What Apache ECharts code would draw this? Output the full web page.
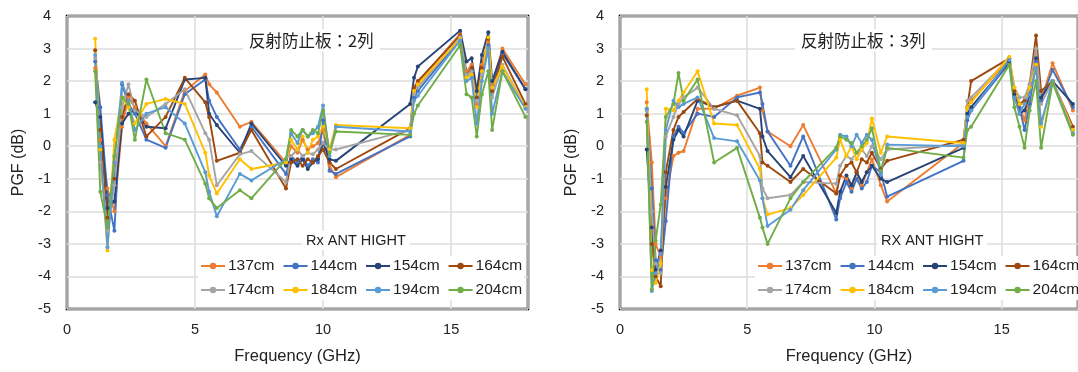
<!DOCTYPE html>
<html><head><meta charset="utf-8">
<script src="https://cdn.jsdelivr.net/npm/echarts@6/dist/echarts.min.js"></script>
<style>html,body{margin:0;padding:0;background:#fff}#c{width:1078px;height:372px}</style>
</head><body><div id="c"></div>
<script>
const seriesNames = ['137cm','144cm','154cm','164cm','174cm','184cm','194cm','204cm'];
const seriesColors = ['#ED7D31','#4472C4','#264478','#9E480E','#A5A5A5','#FFC000','#5B9BD5','#70AD47'];
const xTicks = [0,5,10,15];
const yTicks = [-5,-4,-3,-2,-1,0,1,2,3,4];

// Panel 1: 反射防止板：2列
const freq2 = [1.1,1.3,1.58,1.85,2.15,2.4,2.65,3.1,3.85,4.6,5.4,5.55,5.85,6.75,7.2,8.55,8.75,9.0,9.2,9.4,9.6,9.8,10.0,10.25,10.5,13.4,13.55,13.7,15.35,15.6,15.8,16.0,16.2,16.45,16.6,17.0,17.9];
const p2_137 = [2.4,0.2,-1.3,-2.0,0.6,1.5,1.2,0.7,0.0,1.7,2.2,1.9,1.65,0.6,0.75,-0.5,0.0,-0.2,0.2,-0.1,0.0,0.1,0.5,-0.6,-0.95,0.35,1.7,1.95,3.45,2.3,2.5,1.3,2.5,3.2,1.9,3.0,1.9];
const p2_144 = [2.6,1.2,-1.5,-2.6,1.9,1.3,1.0,0.2,-0.05,1.6,2.05,1.4,0.9,-0.1,0.6,-0.85,-0.3,-0.5,-0.3,-0.6,-0.4,-0.5,0.8,-0.75,-0.85,0.3,1.5,1.7,3.3,2.2,2.3,1.5,2.2,3.1,1.8,2.85,1.75];
const p2_154 = [1.35,0.9,-1.9,-1.7,0.7,1.0,1.1,0.6,0.55,2.05,2.1,1.0,0.65,-0.2,0.7,-0.6,-0.4,-0.6,-0.4,-0.7,-0.5,-0.4,0.1,-0.4,-0.45,1.3,2.1,2.45,3.55,2.6,2.7,1.7,2.8,3.5,2.0,2.9,1.75];
const p2_164 = [2.95,0.5,-2.2,-1.0,0.9,1.6,1.4,0.3,0.9,2.1,1.35,0.9,-0.45,-0.2,0.5,-1.3,-0.5,-0.4,-0.6,-0.4,-0.5,-0.3,-0.1,-0.5,-0.7,0.55,1.8,2.0,3.4,2.2,2.4,1.5,2.4,3.3,1.7,2.75,1.3];
const p2_174 = [2.7,-0.5,-2.6,-1.2,1.2,1.9,1.1,0.9,1.3,1.75,0.4,0.2,-1.2,-0.25,-0.15,-1.1,-0.3,-0.1,-0.3,-0.2,-0.25,-0.1,0.1,-0.1,-0.1,0.5,1.6,1.8,3.35,2.2,2.3,1.4,2.2,3.0,1.5,2.5,1.2];
const p2_184 = [3.3,-0.1,-3.2,0.2,1.5,1.2,0.7,1.3,1.45,1.3,-0.2,-0.9,-1.45,-0.4,-0.7,-0.5,0.2,-0.1,0.3,-0.2,0.2,0.3,0.6,-0.1,0.65,0.55,1.7,1.9,3.3,2.1,2.2,1.2,2.3,3.35,1.8,2.45,1.2];
const p2_194 = [2.8,0.0,-3.1,-0.5,1.95,1.4,0.5,1.0,1.2,0.7,-0.8,-1.4,-2.15,-0.85,-1.05,-0.4,0.4,0.1,0.5,0.3,0.4,0.6,1.25,-0.3,0.6,0.45,1.4,1.55,3.25,2.0,2.1,0.7,2.0,3.0,1.0,2.3,1.15];
const p2_204 = [2.3,-1.4,-2.5,-0.3,1.5,1.3,0.2,2.05,0.4,0.2,-1.15,-1.6,-1.9,-1.35,-1.6,-0.4,0.5,0.3,0.5,0.3,0.5,0.4,1.1,-0.2,0.45,0.35,1.0,1.25,3.1,1.6,1.5,0.3,1.6,2.3,0.5,2.3,0.9];

// Panel 2: 反射防止板：3列
const freq3 = [1.05,1.25,1.4,1.6,1.8,2.1,2.3,2.5,3.05,3.7,4.6,5.5,5.6,5.8,6.7,7.2,8.5,8.65,8.9,9.1,9.3,9.5,9.7,9.9,10.25,10.5,13.5,13.65,13.8,15.3,15.5,15.7,15.9,16.1,16.35,16.55,17.0,17.8];
const p3_137 = [1.35,-0.5,-3.0,-3.4,-1.6,-0.3,-0.2,-0.15,1.15,1.15,1.55,1.8,1.1,0.45,0.0,0.65,-1.45,-0.9,-1.0,-1.3,-0.8,-1.2,-0.8,-0.4,-1.2,-1.7,0.1,1.2,1.4,2.65,1.5,1.2,0.8,1.6,2.5,1.4,2.55,1.1];
const p3_144 = [1.15,-1.3,-3.5,-3.8,-2.3,0.3,0.6,0.4,1.0,0.9,1.5,1.65,1.3,0.45,-0.6,0.3,-2.25,-1.6,-1.1,-1.4,-1.0,-1.3,-1.1,-0.6,-0.8,-1.55,-0.45,0.8,1.1,2.55,1.5,1.2,0.5,1.3,2.6,1.4,2.35,1.2];
const p3_154 = [-0.1,-2.5,-3.8,-3.2,-1.25,0.2,0.5,0.3,1.4,1.2,1.4,1.15,0.3,-0.15,-0.95,-0.3,-2.05,-1.4,-0.9,-1.2,-0.8,-1.1,-0.8,-0.6,-1.0,-1.1,-0.05,1.0,1.2,2.6,1.6,1.0,1.1,1.6,2.7,1.5,2.0,1.3];
const p3_164 = [0.95,-3.0,-4.0,-4.3,-0.8,0.5,0.9,1.05,1.45,1.2,1.4,0.4,-0.5,-0.6,-1.1,-0.7,-1.45,-0.9,-0.6,-0.5,-0.8,-0.4,-0.5,-0.2,-0.7,-0.45,0.2,1.2,2.0,2.7,1.7,1.3,1.4,1.9,3.4,1.7,2.0,0.6];
const p3_174 = [1.1,-2.0,-3.6,-3.9,0.3,0.9,1.3,1.5,1.8,1.15,0.95,-0.3,-1.3,-1.6,-1.5,-1.1,-1.15,-0.6,-0.3,-0.4,-0.2,-0.1,-0.3,0.0,-0.4,-0.1,0.05,1.4,1.5,2.7,1.8,1.5,1.5,1.9,3.0,1.3,2.0,0.5];
const p3_184 = [1.75,-3.8,-4.2,-3.6,1.15,1.1,1.4,1.65,2.3,0.7,0.65,-0.7,-1.6,-2.1,-1.9,-1.5,-0.35,0.2,-0.3,0.0,-0.4,-0.1,0.1,0.85,-0.2,0.3,0.1,1.2,1.35,2.75,1.8,1.3,1.3,1.8,2.5,0.6,2.0,0.5];
const p3_194 = [1.15,-4.45,-3.9,-3.3,0.5,1.4,1.2,1.3,1.5,0.25,0.15,-1.05,-1.6,-2.45,-1.95,-1.35,-0.1,0.35,0.3,0.0,0.35,0.1,0.35,0.2,-0.85,0.05,0.0,0.9,1.1,2.65,1.5,1.0,1.3,1.6,2.4,0.7,2.0,0.4];
const p3_204 = [0.75,-4.4,-2.9,-1.8,0.9,1.3,2.25,1.4,2.05,-0.5,-0.05,-2.2,-2.5,-3.0,-1.6,-1.1,-0.05,0.3,0.2,0.1,-0.2,0.0,0.2,0.55,-0.75,-0.05,-0.35,0.5,0.6,2.5,1.2,0.6,-0.05,1.1,2.0,-0.05,1.95,0.35];

const panel2 = [p2_137,p2_144,p2_154,p2_164,p2_174,p2_184,p2_194,p2_204];
const panel3 = [p3_137,p3_144,p3_154,p3_164,p3_174,p3_184,p3_194,p3_204];

const FONT = '"Liberation Sans", Arial, sans-serif';
const chart = echarts.init(document.getElementById('c'), null, {renderer:'canvas'});

function zip(xs, ys){ return xs.map((x,i)=>[x, ys[i]]); }
function mkSeries(vals, xs, idx){
  return vals.map((v,i)=>({
    name: seriesNames[i], type:'line', xAxisIndex: idx, yAxisIndex: idx,
    data: zip(xs, v), color: seriesColors[i],
    symbol:'circle', symbolSize:4, showSymbol:true,
    lineStyle:{width:1.9, color: seriesColors[i]},
    itemStyle:{color: seriesColors[i]},
    emphasis:{disabled:true}, animation:false, z: 3
  }));
}
function xAx(idx){
  return {gridIndex: idx, type:'value', min:0, max:18, interval:5,
    name:'Frequency (GHz)', nameLocation:'middle', nameGap:39,
    nameTextStyle:{fontSize:16.5, color:'#222', fontFamily:FONT},
    axisLine:{show:false}, axisTick:{show:false},
    axisLabel:{fontSize:14.5, color:'#222', margin:13, fontFamily:FONT, showMaxLabel:false,
      formatter: v => xTicks.includes(v) ? String(v) : ''},
    splitLine:{show:true, lineStyle:{color:'#dcdcdc', width:1.5}}};
}
function yAx(idx){
  return {gridIndex: idx, type:'value', min:-5, max:4, interval:1,
    name:'PGF (dB)', nameLocation:'middle', nameGap:40,
    nameTextStyle:{fontSize:16, color:'#222', fontFamily:FONT},
    axisLine:{show:false}, axisTick:{show:false},
    axisLabel:{fontSize:14.5, color:'#222', margin:16, fontFamily:FONT,
      formatter: v => yTicks.includes(v) ? String(v) : ''},
    splitLine:{show:true, lineStyle:{color:'#dcdcdc', width:1.5}}};
}
function legend(left){
  return {data: seriesNames, left: left, top: 256, width: 334, itemWidth: 24, itemHeight: 8, itemGap: 8,
    orient:'horizontal', backgroundColor:'#fff', padding:[2,2,2,2],
    textStyle:{fontSize:15.5, color:'#222', fontFamily:FONT, padding:[0,0,0,-2]},
    selectedMode:false};
}

chart.setOption({
  animation:false,
  backgroundColor:'#fff',
  textStyle:{fontFamily:FONT},
  grid:[
    {left:67, top:16, width:461, height:293, show:true, borderColor:'#000', borderWidth:2.5, backgroundColor:'transparent'},
    {left:620, top:16, width:459, height:293, show:true, borderColor:'#000', borderWidth:2.5, backgroundColor:'transparent'}
  ],
  xAxis:[xAx(0), xAx(1)],
  yAxis:[yAx(0), yAx(1)],
  title:[
    {text:'反射防止板：2列', left:243, top:29, backgroundColor:'#fff', padding:[3,6,3,6],
      textStyle:{fontSize:16.5, fontWeight:'normal', color:'#222', fontFamily:'"Noto Sans CJK JP", '+FONT}},
    {text:'反射防止板：3列', left:795, top:29, backgroundColor:'#fff', padding:[3,6,3,6],
      textStyle:{fontSize:16.5, fontWeight:'normal', color:'#222', fontFamily:'"Noto Sans CJK JP", '+FONT}},
    {text:'Rx ANT HIGHT', left:302, top:231, backgroundColor:'#fff', padding:[2,4,2,4],
      textStyle:{fontSize:14.5, fontWeight:'normal', color:'#222', fontFamily:FONT}},
    {text:'RX ANT HIGHT', left:877, top:231, backgroundColor:'#fff', padding:[2,4,2,4],
      textStyle:{fontSize:14.5, fontWeight:'normal', color:'#222', fontFamily:FONT}}
  ],
  legend:[legend(198), legend(755)],
  series:[...mkSeries(panel2, freq2, 0), ...mkSeries(panel3, freq3, 1)]
});
</script></body></html>
